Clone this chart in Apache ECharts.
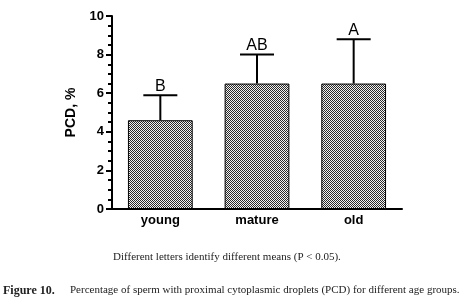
<!DOCTYPE html>
<html>
<head>
<meta charset="utf-8">
<script src="https://cdn.jsdelivr.net/npm/echarts@6/dist/echarts.min.js"></script>
<style>
  html, body { margin: 0; padding: 0; background: #fff; }
  #chart { width: 463px; height: 306px; }
</style>
</head>
<body>
<div id="chart"></div>
<script>
var groups = ['young', 'mature', 'old'];
var means = [4.6, 6.5, 6.5];
var upperErr = [5.9, 8.0, 8.8];
var letters = ['B', 'AB', 'A'];

// small checker pattern for the bar fill
var pat = document.createElement('canvas');
pat.width = 2;
pat.height = 2;
var pctx = pat.getContext('2d');
pctx.fillStyle = '#f2f2f2';
pctx.fillRect(0, 0, 2, 2);
pctx.fillStyle = '#2a2a2a';
pctx.fillRect(0, 0, 1, 1);
pctx.fillRect(1, 1, 1, 1);

var chart = echarts.init(document.getElementById('chart'));

var option = {
  backgroundColor: '#ffffff',
  animation: false,
  grid: { left: 112, right: 61, top: 16, bottom: 97 },
  xAxis: {
    type: 'category',
    data: groups,
    axisLine: { lineStyle: { color: '#000', width: 2 } },
    axisTick: { show: false },
    axisLabel: { color: '#000', fontWeight: 'bold', fontSize: 13, fontFamily: 'Liberation Sans', margin: 5 }
  },
  yAxis: {
    type: 'value',
    min: 0,
    max: 10,
    interval: 2,
    name: 'PCD, %',
    nameLocation: 'middle',
    nameGap: 30,
    nameTextStyle: { color: '#000', fontWeight: 'bold', fontSize: 14, fontFamily: 'Liberation Sans' },
    axisLine: { show: true, lineStyle: { color: '#000', width: 2 } },
    axisTick: { show: true, length: 6, lineStyle: { color: '#000', width: 2 } },
    minorTick: { show: true, splitNumber: 4, length: 4, lineStyle: { color: '#000', width: 2 } },
    splitLine: { show: false },
    axisLabel: { color: '#000', fontWeight: 'bold', fontSize: 13, fontFamily: 'Liberation Sans', margin: 8 }
  },
  series: [
    {
      type: 'bar',
      data: means,
      barWidth: '67%',
      itemStyle: {
        color: { image: pat, repeat: 'repeat' },
        borderColor: '#000',
        borderWidth: 1
      }
    },
    {
      type: 'custom',
      data: groups.map(function (g, i) { return [i, means[i], upperErr[i]]; }),
      renderItem: function (params, api) {
        var base = api.coord([api.value(0), api.value(1)]);
        var top = api.coord([api.value(0), api.value(2)]);
        var half = 17;
        return {
          type: 'group',
          children: [
            { type: 'line', shape: { x1: base[0], y1: base[1], x2: top[0], y2: top[1] }, style: { stroke: '#000', lineWidth: 2 } },
            { type: 'line', shape: { x1: top[0] - half, y1: top[1], x2: top[0] + half, y2: top[1] }, style: { stroke: '#000', lineWidth: 2 } },
            { type: 'text', x: top[0], y: top[1] - 1, style: { text: letters[params.dataIndex], textAlign: 'center', textVerticalAlign: 'bottom', fill: '#000', font: '16px "Liberation Sans"' } }
          ]
        };
      },
      z: 5
    }
  ],
  graphic: [
    { type: 'text', left: 113, top: 252, style: { text: 'Different letters identify different means (P < 0.05).', fill: '#222', font: '11px "Liberation Serif"' } },
    { type: 'text', left: 3, top: 285, style: { text: 'Figure 10.', fill: '#222', font: 'bold 12px "Liberation Serif"' } },
    { type: 'text', left: 70, top: 285, style: { text: 'Percentage of sperm with proximal cytoplasmic droplets (PCD) for different age groups.', fill: '#222', font: '11px "Liberation Serif"' } }
  ]
};

chart.setOption(option);
</script>
</body>
</html>
